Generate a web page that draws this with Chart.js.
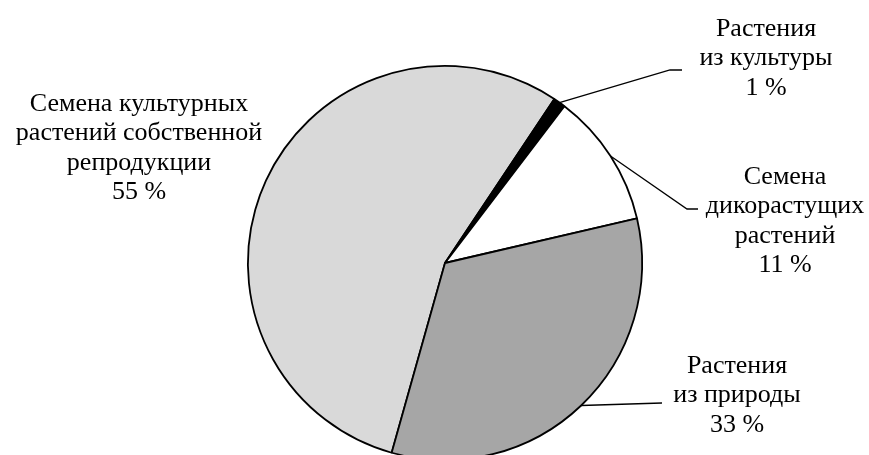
<!DOCTYPE html>
<html>
<head>
<meta charset="utf-8">
<script src="https://cdn.jsdelivr.net/npm/chart.js@4"></script>
<style>
html,body{margin:0;padding:0;background:#fff;overflow:hidden;}
#wrap{width:869px;height:455px;overflow:hidden;position:relative;}
canvas{display:block;}
</style>
</head>
<body>
<div id="wrap"><canvas id="c" width="869" height="470"></canvas></div>
<script>
// Data
const categories = [
  ["Семена культурных", "растений собственной", "репродукции"],
  ["Растения", "из культуры"],
  ["Семена", "дикорастущих", "растений"],
  ["Растения", "из природы"]
];
const values = [55, 1, 11, 33];
const percentLabels = ["55 %", "1 %", "11 %", "33 %"];
const colors = ["#d9d9d9", "#000000", "#ffffff", "#a6a6a6"];

// label layout: text center x, first line center y, leader end point (null = no leader)
const labelLayout = [
  {x: 139, y: 104, leader: null},
  {x: 766, y: 29, leader: [[670, 70], [682, 70]]},
  {x: 785, y: 177, leader: [[687, 209], [698, 209]]},
  {x: 737, y: 366, leader: [[662, 403]]}
];
const lineH = 29.5;
const FONT = '26px "Liberation Serif", "Times New Roman", serif';

const labelPlugin = {
  id: 'labels',
  afterDraw(chart) {
    const ctx = chart.ctx;
    const meta = chart.getDatasetMeta(0);
    ctx.save();
    ctx.font = FONT;
    ctx.fillStyle = '#000';
    ctx.textAlign = 'center';
    ctx.textBaseline = 'middle';
    meta.data.forEach((arc, i) => {
      const L = labelLayout[i];
      const lines = categories[i].concat([percentLabels[i]]);
      lines.forEach((t, k) => ctx.fillText(t, L.x, L.y + k * lineH));
      if (L.leader) {
        const p = arc.getProps(['x', 'y', 'startAngle', 'endAngle', 'outerRadius'], true);
        const a = (p.startAngle + p.endAngle) / 2;
        ctx.beginPath();
        ctx.lineWidth = 1.3;
        ctx.strokeStyle = '#000';
        ctx.moveTo(p.x + Math.cos(a) * p.outerRadius, p.y + Math.sin(a) * p.outerRadius);
        L.leader.forEach(pt => ctx.lineTo(pt[0], pt[1]));
        ctx.stroke();
      }
    });
    ctx.restore();
  }
};

new Chart(document.getElementById('c'), {
  type: 'pie',
  data: {
    labels: categories.map(c => c.join(' ')),
    datasets: [{
      data: values,
      backgroundColor: colors,
      borderColor: '#000',
      borderWidth: 1.8
    }]
  },
  options: {
    responsive: false,
    devicePixelRatio: 1,
    animation: false,
    rotation: 195.7,
    layout: {padding: {left: 247, right: 226, top: 65, bottom: 9}},
    plugins: {legend: {display: false}, tooltip: {enabled: false}}
  },
  plugins: [labelPlugin]
});
</script>
</body>
</html>
